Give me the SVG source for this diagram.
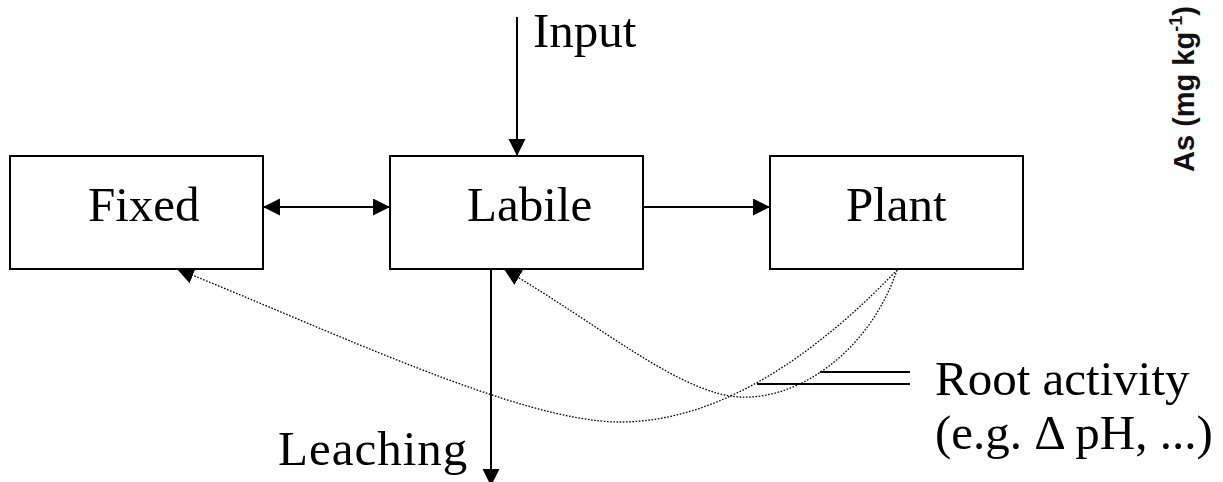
<svg xmlns="http://www.w3.org/2000/svg" width="1223" height="482" viewBox="0 0 1223 482">
  <style>
    .box { fill: #fff; stroke: #000; stroke-width: 2; }
    .lbl { font-family: "Liberation Serif", "Times New Roman", serif; font-size: 49px; fill: #000; }
    .solid { fill: none; stroke: #000; stroke-width: 2; }
    .dotted { fill: none; stroke: #000; stroke-width: 1.3; stroke-dasharray: 1.6 1.6; }
    .axis { font-family: "Liberation Sans", Arial, sans-serif; font-weight: bold; font-size: 29px; fill: #111; }
  </style>
  <defs>
    <marker id="arrow" markerUnits="userSpaceOnUse" markerWidth="18" markerHeight="18" refX="17" refY="8.5" orient="auto-start-reverse">
      <path d="M0,0 L17,8.5 L0,17 z" fill="#000"/>
    </marker>
  </defs>

  <rect width="1223" height="482" fill="#fff"/>

  <!-- connectors -->
  <g id="connectors">
    <line class="solid" x1="517" y1="17" x2="517" y2="156" marker-end="url(#arrow)"/>
    <line class="solid" x1="263" y1="207" x2="390" y2="207" marker-start="url(#arrow)" marker-end="url(#arrow)"/>
    <line class="solid" x1="643" y1="207" x2="770" y2="207" marker-end="url(#arrow)"/>
    <line class="solid" x1="491" y1="269" x2="491" y2="486" marker-end="url(#arrow)"/>
    <!-- root activity feedback paths -->
    <path class="dotted" d="M897,270 C830,340 730,422 620,422 C520,422 330,330 177,269" marker-end="url(#arrow)"/>
    <path class="dotted" d="M897,270 C870,350 800,400 740,397 C680,394 600,325 504,269" marker-end="url(#arrow)"/>
    <!-- pointer to the root activity label -->
    <line class="solid" x1="820" y1="372" x2="910" y2="372"/>
    <line class="solid" x1="757" y1="384" x2="910" y2="384"/>
  </g>

  <g id="fixed">
    <rect class="box" x="10" y="156" width="253" height="113"/>
    <text class="lbl" x="88" y="221">Fixed</text>
  </g>
  <g id="labile">
    <rect class="box" x="390" y="156" width="253" height="113"/>
    <text class="lbl" x="467" y="221">Labile</text>
  </g>
  <g id="plant">
    <rect class="box" x="770" y="156" width="253" height="113"/>
    <text class="lbl" x="846" y="221">Plant</text>
  </g>

  <g id="input-label">
    <text class="lbl" x="533" y="47">Input</text>
  </g>
  <g id="leaching-label">
    <text class="lbl" x="278" y="465" letter-spacing="1">Leaching</text>
  </g>
  <g id="root-activity-label">
    <text class="lbl" x="935" y="395">Root activity</text>
    <text class="lbl" x="935" y="449">(e.g. Δ pH, ...)</text>
  </g>

  <g id="axis-title">
    <text class="axis" transform="translate(1194,172) rotate(-90)">As (mg kg<tspan font-size="18" dy="-12">-1</tspan><tspan dy="12">)</tspan></text>
  </g>
</svg>
